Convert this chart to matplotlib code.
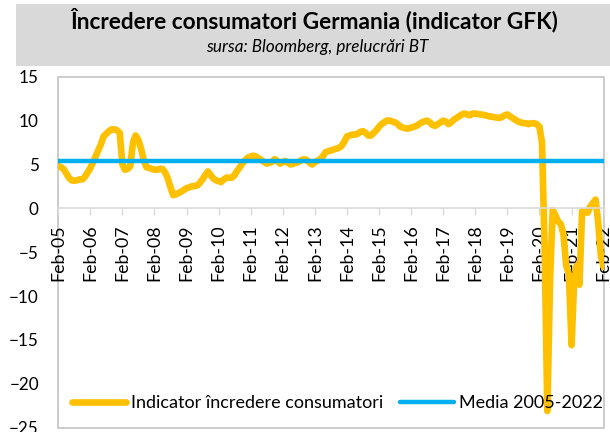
import numpy as np
import pandas as pd
import matplotlib
matplotlib.use('Agg')
import matplotlib.pyplot as plt
from matplotlib.patches import Rectangle

plt.rcParams['font.family'] = ['Lato', 'DejaVu Sans']

titlu = 'Încredere consumatori Germania (indicator GFK)'
sursa = 'sursa: Bloomberg, prelucrări BT'
serii = ['Indicator încredere consumatori', 'Media 2005-2022']

# lunar, Feb-05 ... Feb-22
luni = pd.date_range('2005-02-01', periods=205, freq='MS')
indicator = [
    4.8, 4.7, 4.5, 4.0, 3.5, 3.2, 3.15, 3.2, 3.3, 3.3, 3.6, 4.1,        # 2005
    4.6, 5.2, 5.9, 6.6, 7.3, 8.2, 8.5, 8.8, 9.0, 9.0, 8.9, 8.6,         # 2006
    5.0, 4.4, 4.5, 4.8, 7.5, 8.3, 7.8, 6.8, 5.5, 4.7, 4.6, 4.5,         # 2007
    4.4, 4.4, 4.5, 4.5, 4.1, 3.4, 2.4, 1.5, 1.6, 1.75, 1.9, 2.1,        # 2008
    2.3, 2.4, 2.5, 2.55, 2.6, 2.9, 3.3, 3.8, 4.2, 3.8, 3.4, 3.2,        # 2009
    3.1, 3.0, 3.3, 3.5, 3.5, 3.5, 3.8, 4.3, 4.7, 5.2, 5.5, 5.8,         # 2010
    5.9, 6.0, 5.9, 5.7, 5.5, 5.3, 5.1, 5.2, 5.3, 5.6, 5.4, 5.1,         # 2011
    5.3, 5.4, 5.2, 5.0, 5.1, 5.2, 5.3, 5.5, 5.6, 5.5, 5.2, 5.0,         # 2012
    5.3, 5.4, 5.6, 5.9, 6.4, 6.5, 6.6, 6.7, 6.8, 6.9, 7.1, 7.6,         # 2013
    8.2, 8.3, 8.4, 8.4, 8.5, 8.7, 8.8, 8.6, 8.3, 8.3, 8.6, 8.9,         # 2014
    9.3, 9.6, 9.8, 10.0, 10.0, 9.9, 9.8, 9.6, 9.3, 9.2, 9.1, 9.1,       # 2015
    9.2, 9.3, 9.4, 9.6, 9.8, 9.9, 10.0, 9.8, 9.5, 9.4, 9.6, 9.8,        # 2016
    10.0, 9.9, 9.6, 9.8, 10.1, 10.3, 10.5, 10.7, 10.8, 10.7, 10.6, 10.8,  # 2017
    10.8, 10.75, 10.7, 10.65, 10.6, 10.5, 10.45, 10.4, 10.35, 10.3, 10.4, 10.6,  # 2018
    10.7, 10.5, 10.3, 10.1, 9.9, 9.8, 9.7, 9.7, 9.6, 9.7, 9.7, 9.6,     # 2019
    9.3, 7.5, -5.0, -23.1, -8.0, -0.2, -0.8, -1.5, -1.8, -3.0, -6.5, -7.5,  # 2020
    -15.6, -8.5, -6.5, -8.7, -0.3, -0.4, -0.5, 0.2, 0.6, 1.0, -1.6, -5.5,   # 2021
    -6.7,                                                               # 2022
]
media = 5.35

fig = plt.figure(figsize=(6.1, 4.32), dpi=100)

# banda gri pentru titlu
fig.patches.append(Rectangle((0.026, 0.848), 0.974, 0.142, transform=fig.transFigure,
                             facecolor='#d9d9d9', edgecolor='none', zorder=0))
fig.text(0.516, 0.953, titlu, ha='center', va='center', fontsize=16.3, fontweight='bold')
fig.text(0.52, 0.891, sursa, ha='center', va='center', fontsize=12.3, style='italic')

ax = fig.add_axes([0.0956, 0.0099, 0.894, 0.8125])

ax.plot(luni, indicator, color='#ffc000', lw=4.8, solid_joinstyle='round',
        solid_capstyle='round', label=serii[0], zorder=2)
ax.plot(luni, [media] * len(luni), color='#00b0f0', lw=3.2, solid_capstyle='butt',
        label=serii[1], zorder=3)

ax.set_ylim(-25, 15)
ax.set_yticks(np.arange(-25, 16, 5))
ax.set_xlim(luni[0], luni[-1])
ax.set_xticks(luni[::12])
ax.set_xticklabels([d.strftime('%b-%y') for d in luni[::12]])

# axa x la 0, chenar gri in jurul zonei de plot
ax.spines['bottom'].set_position(('data', 0))
ax.spines['bottom'].set_color('#d9d9d9')
ax.spines['bottom'].set_linewidth(1.2)
for s in ['top', 'left', 'right']:
    ax.spines[s].set_visible(False)
ax.patch.set_edgecolor('#c8c8c8')
ax.patch.set_linewidth(1.3)

ax.tick_params(axis='x', length=5, width=1, color='#d9d9d9', pad=6.5, labelsize=12.8,
               labelrotation=90)
ax.tick_params(axis='y', length=0, pad=14, labelsize=12.3)

leg = ax.legend(loc='center', bbox_to_anchor=(0.512, 0.07), ncol=2, frameon=False,
                fontsize=13, handlelength=3.0, handletextpad=0.3, columnspacing=0.9)
for h in leg.get_lines():
    h.set_solid_capstyle('round')

fig.savefig('out.png', dpi=100)
